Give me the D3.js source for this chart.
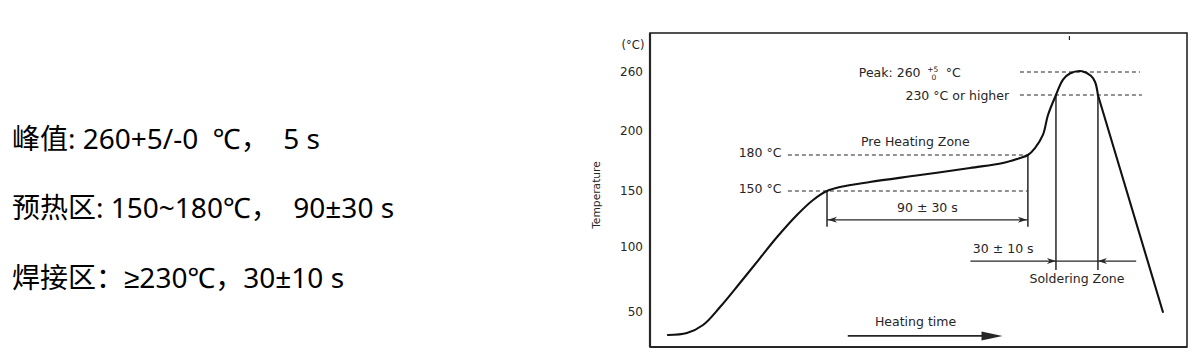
<!DOCTYPE html>
<html><head><meta charset="utf-8">
<script src="https://cdn.jsdelivr.net/npm/d3@7"></script>
<style>
html,body{margin:0;padding:0;background:#fff;}
svg{display:block;}
</style></head>
<body>
<svg id="c" width="1193" height="362"></svg>
<script>
// ---------- data ----------
const specLines = ["峰值: 260+5/-0  ℃，  5 s", "预热区: 150~180℃，  90±30 s", "焊接区：≥230℃，30±10 s"];
const yTicks = [50, 100, 150, 200, 260];
const zoneTemps = [150, 180, 230, 260];
const zoneLabels = ["150 °C", "180 °C", "230 °C or higher", "Peak: 260"];
// heating part of the profile (time in s, temperature in °C)
const heatTime = [8.1, 16.7, 24.0, 31.7, 40.7, 49.8, 57.5, 66.5, 73.8, 80.1, 86.0, 99.5, 122.2, 144.8, 159.7, 167.4, 171.0, 174.2, 177.8, 180.1, 183.7, 186.9, 190, 195.5, 199.5, 201.4, 202.7];
const heatTemp = [32.3, 33.8, 40, 53.8, 72.3, 91.5, 108.9, 128.6, 142, 150, 153.3, 157.5, 163.3, 169.2, 173.3, 177.5, 180, 185.8, 196.7, 213.3, 230, 250, 258, 261, 255, 247, 230];
// cooling part (straight fall)
const coolTime = [202.7, 232.1];
const coolTemp = [230, 50];
const preheatTimes = [80.1, 171.0];
const solderTimes = [183.7, 202.7];

// ---------- layout ----------
const svg = d3.select("#c");
const ink = "#262626";
const frame = {l: 650, t: 33, r: 1187, b: 347};
const x = d3.scaleLinear().domain([0, 243]).range([frame.l, frame.r]);
const y = d3.scaleLinear().domain([50, 100, 150, 180, 230, 260]).range([312, 247, 191, 155, 95, 72]);

// left spec text
const cjk = "'Noto Sans', 'Liberation Sans', 'Noto Sans CJK SC', sans-serif";
svg.append("g").selectAll("text").data(specLines).join("text")
  .attr("x", 12).attr("y", (d, i) => 148.5 + i * 69.5)
  .attr("font-family", cjk).attr("font-size", 28).attr("fill", "#000")
  .attr("xml:space", "preserve").style("white-space", "pre")
  .text(d => d);

// frame
svg.append("rect").attr("x", frame.l).attr("y", frame.t)
  .attr("width", frame.r - frame.l).attr("height", frame.b - frame.t)
  .attr("fill", "none").attr("stroke", ink).attr("stroke-width", 1.6);
svg.append("line").attr("x1", frame.l).attr("x2", frame.l).attr("y1", frame.t).attr("y2", frame.b)
  .attr("stroke", ink).attr("stroke-width", 2.2);
svg.append("line").attr("x1", frame.l).attr("x2", frame.r).attr("y1", frame.b).attr("y2", frame.b)
  .attr("stroke", ink).attr("stroke-width", 2);
// small scratch mark near the top
svg.append("line").attr("x1", x(189.8)).attr("x2", x(189.8)).attr("y1", frame.t + 3).attr("y2", frame.t + 7)
  .attr("stroke", ink).attr("stroke-width", 1.2);

const lab = "'DejaVu Sans', sans-serif";
const fs = 12.5, dyc = 4.5;
// y axis tick labels
const yAxis = d3.axisLeft(y).tickValues(yTicks).tickSize(0).tickPadding(7);
const ga = svg.append("g").attr("transform", `translate(${frame.l},0)`).call(yAxis);
ga.select(".domain").remove();
ga.selectAll("text").attr("font-family", lab).attr("font-size", 12).attr("fill", ink);
svg.append("text").attr("x", 633).attr("y", 49).attr("text-anchor", "middle")
  .attr("font-family", lab).attr("font-size", 11.5).attr("fill", ink).text("(°C)");
svg.append("text").attr("transform", "translate(600,195) rotate(-90)").attr("text-anchor", "middle")
  .attr("font-family", lab).attr("font-size", 10.7).attr("fill", ink).text("Temperature");

// dashed reference lines
const dash = "4,3";
const dashSpans = [[62.4, 170.6], [62.4, 170.6], [167.4, 222.6], [167.4, 221.7]];
svg.append("g").selectAll("line").data(zoneTemps).join("line")
  .attr("x1", (d, i) => x(dashSpans[i][0])).attr("x2", (d, i) => x(dashSpans[i][1]))
  .attr("y1", d => y(d)).attr("y2", d => y(d))
  .attr("stroke", ink).attr("stroke-width", 1.2).attr("stroke-dasharray", dash);

// labels for 150 / 180
svg.append("g").selectAll("text").data(zoneTemps.slice(0, 2)).join("text")
  .attr("x", x(59.5)).attr("y", d => y(d) + 2)
  .attr("text-anchor", "end").attr("font-family", lab).attr("font-size", fs).attr("fill", ink)
  .text((d, i) => zoneLabels[i]);
// 230 label
svg.append("text").attr("x", x(162.5)).attr("y", y(230) + dyc).attr("text-anchor", "end")
  .attr("font-family", lab).attr("font-size", fs).attr("fill", ink).text(zoneLabels[2]);
// peak label with +5 / 0 stacked
const pkX = x(94.5);
svg.append("text").attr("x", pkX).attr("y", y(260) + dyc)
  .attr("font-family", lab).attr("font-size", fs).attr("fill", ink).text(zoneLabels[3]);
svg.append("text").attr("x", pkX + 74).attr("y", y(260) - 0.5).attr("text-anchor", "middle")
  .attr("font-family", lab).attr("font-size", 7.5).attr("fill", ink).text("+5");
svg.append("text").attr("x", pkX + 75).attr("y", y(260) + 7.5).attr("text-anchor", "middle")
  .attr("font-family", lab).attr("font-size", 7.5).attr("fill", ink).text("0");
svg.append("text").attr("x", pkX + 87).attr("y", y(260) + dyc)
  .attr("font-family", lab).attr("font-size", fs).attr("fill", ink).text("°C");

// Pre Heating Zone
svg.append("text").attr("x", x(95.5)).attr("y", y(180) - 9.5)
  .attr("font-family", lab).attr("font-size", fs).attr("fill", ink).text("Pre Heating Zone");

// preheat verticals and 90 ± 30 s arrow
const tPre = 118, tArr = 124.3;
svg.append("g").selectAll("line").data(preheatTimes).join("line")
  .attr("x1", d => x(d)).attr("x2", d => x(d))
  .attr("y1", (d, i) => y(heatTemp[heatTime.indexOf(d)])).attr("y2", y(tPre))
  .attr("stroke", ink).attr("stroke-width", 1.5);
svg.append("line").attr("x1", x(preheatTimes[0])).attr("x2", x(preheatTimes[1]))
  .attr("y1", y(tArr)).attr("y2", y(tArr)).attr("stroke", ink).attr("stroke-width", 1.3);
function head(px, py, dir, len, half) {
  svg.append("path")
    .attr("d", `M${px},${py} L${px - dir * len},${py - half} L${px - dir * len * 0.7},${py} L${px - dir * len},${py + half} Z`)
    .attr("fill", ink);
}
head(x(preheatTimes[0]) + 1, y(tArr), -1, 9, 3);
head(x(preheatTimes[1]) - 1, y(tArr), 1, 9, 3);
svg.append("text").attr("x", x(d3.mean(preheatTimes))).attr("y", y(135.7) + dyc).attr("text-anchor", "middle")
  .attr("font-family", lab).attr("font-size", fs).attr("fill", ink).text("90 ± 30 s");

// soldering zone verticals + arrows
const tSolBottom = 82.3, tSolArr = 89.2;
svg.append("g").selectAll("line").data(solderTimes).join("line")
  .attr("x1", d => x(d)).attr("x2", d => x(d))
  .attr("y1", y(230)).attr("y2", y(tSolBottom))
  .attr("stroke", ink).attr("stroke-width", 1.5);
svg.append("line").attr("x1", x(145)).attr("x2", x(220)).attr("y1", y(tSolArr)).attr("y2", y(tSolArr))
  .attr("stroke", ink).attr("stroke-width", 1.3);
head(x(solderTimes[0]), y(tSolArr), 1, 9, 3);
head(x(solderTimes[1]), y(tSolArr), -1, 9, 3);
svg.append("text").attr("x", x(146.1)).attr("y", y(99.2) + dyc)
  .attr("font-family", lab).attr("font-size", fs).attr("fill", ink).text("30 ± 10 s");
svg.append("text").attr("x", x(193.2)).attr("y", y(75.4) + dyc).attr("text-anchor", "middle")
  .attr("font-family", lab).attr("font-size", fs).attr("fill", ink).text("Soldering Zone");

// Heating time arrow
svg.append("text").attr("x", x(101.8)).attr("y", y(42.5) + dyc)
  .attr("font-family", lab).attr("font-size", fs).attr("fill", ink).text("Heating time");
svg.append("line").attr("x1", x(89.5)).attr("x2", x(153)).attr("y1", y(31.6)).attr("y2", y(31.6))
  .attr("stroke", ink).attr("stroke-width", 1.8);
svg.append("path")
  .attr("d", `M${x(159.5)},${y(31.6)} L${x(150)},${y(31.6) - 4.5} L${x(150)},${y(31.6) + 4.5} Z`)
  .attr("fill", ink);

// profile curve
const heatPts = heatTime.map((t, i) => [t, heatTemp[i]]);
const coolPts = coolTime.map((t, i) => [t, coolTemp[i]]);
svg.append("path").datum(heatPts)
  .attr("d", d3.line().x(d => x(d[0])).y(d => y(d[1])).curve(d3.curveCatmullRom.alpha(0.5)))
  .attr("fill", "none").attr("stroke", "#111").attr("stroke-width", 2.1).attr("stroke-linecap", "round");
svg.append("path").datum(coolPts)
  .attr("d", d3.line().x(d => x(d[0])).y(d => y(d[1])))
  .attr("fill", "none").attr("stroke", "#111").attr("stroke-width", 2.1).attr("stroke-linecap", "round");
</script>
</body></html>
